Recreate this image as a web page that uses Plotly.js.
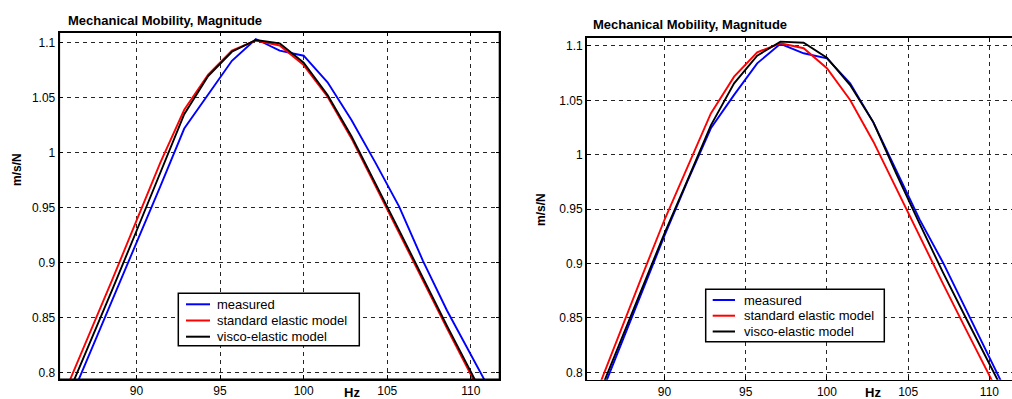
<!DOCTYPE html>
<html>
<head>
<meta charset="utf-8">
<script src="https://cdn.plot.ly/plotly-3.0.1.min.js"></script>
<style>html,body{margin:0;padding:0;background:#fff;}#chart{width:1012px;height:399px;}</style>
</head>
<body>
<div id="chart"></div>
<script>
// Frequencies (Hz)
const freq = [85.71, 87.14, 88.57, 90.00, 91.43, 92.86, 94.29, 95.71, 97.14, 98.57, 100.00, 101.43, 102.86, 104.29, 105.71, 107.14, 108.57, 110.00, 111.43];

// Left panel
const measuredL = [0.7635, 0.8148, 0.8659, 0.9179, 0.9695, 1.022, 1.053, 1.0836, 1.1034, 1.0929, 1.0882, 1.064, 1.0297, 0.991, 0.951, 0.9015, 0.8566, 0.816, 0.776];
const standardL = [0.782, 0.833, 0.885, 0.938, 0.991, 1.039, 1.071, 1.093, 1.102, 1.0975, 1.0797, 1.0509, 1.013, 0.970, 0.9267, 0.8832, 0.8403, 0.798, 0.756];
const viscoL    = [0.773, 0.824, 0.876, 0.9286, 0.9818, 1.035, 1.0697, 1.0918, 1.1025, 1.0995, 1.0818, 1.0525, 1.015, 0.9725, 0.9294, 0.886, 0.8426, 0.8007, 0.758];

// Right panel
const measuredR = [0.765, 0.8188, 0.8726, 0.9253, 0.976, 1.0243, 1.055, 1.084, 1.102, 1.0933, 1.0887, 1.0657, 1.0298, 0.9842, 0.9404, 0.901, 0.8575, 0.8139, 0.770];
const standardR = [0.777, 0.832, 0.8864, 0.940, 0.9887, 1.038, 1.0718, 1.0942, 1.1025, 1.0979, 1.0795, 1.0504, 1.012, 0.968, 0.9245, 0.8815, 0.839, 0.797, 0.755];
const viscoR    = [0.770, 0.823, 0.8756, 0.9276, 0.977, 1.027, 1.0657, 1.0911, 1.104, 1.103, 1.0892, 1.0641, 1.0298, 0.982, 0.9365, 0.8918, 0.8495, 0.8072, 0.766];

const seriesNames = ['measured', 'standard elastic model', 'visco-elastic model'];
const seriesColors = ['#0000ff', '#ff0000', '#000000'];
const xTicks = [90, 95, 100, 105, 110];
const yTicks = [0.8, 0.85, 0.9, 0.95, 1, 1.05, 1.1];
const yTickText = ['0.8', '0.85', '0.9', '0.95', '1', '1.05', '1.1'];
const titleText = 'Mechanical Mobility, Magnitude';
const yLabel = 'm/s/N';
const xLabel = 'Hz';

const FONT = 'Liberation Sans, Arial, Helvetica, sans-serif';
const W = 1012, H = 399;
const px = v => v / W;
const py = v => 1 - v / H;

function mk(y, i, xa, ya) {
  return {x: freq, y: y, type: 'scatter', mode: 'lines', name: seriesNames[i],
    xaxis: xa, yaxis: ya, showlegend: false,
    line: {color: seriesColors[i], width: 1.9}, hoverinfo: 'skip'};
}

const data = [
  mk(measuredL, 0, 'x', 'y'),
  mk(standardL, 1, 'x', 'y'),
  mk(viscoL, 2, 'x', 'y'),
  mk(measuredR, 0, 'x2', 'y2'),
  mk(standardR, 1, 'x2', 'y2'),
  mk(viscoR, 2, 'x2', 'y2')
];

const gridCommon = {
  showgrid: true, gridcolor: 'rgba(0,0,0,0.85)', gridwidth: 1, griddash: '4px,4px',
  zeroline: false, showline: true, linecolor: '#000', linewidth: 1.6,
  ticks: 'inside', ticklen: 4, tickcolor: '#000', tickwidth: 1,
  tickfont: {family: FONT, size: 12, color: '#000'}, tickmode: 'array', automargin: false
};

// Legend drawn as a boxed key (shapes + text), matching the MATLAB legend style
function legendParts(box, sampleX0, sampleX1, textX, rowsY) {
  const shapes = [{type: 'rect', xref: 'paper', yref: 'paper', x0: px(box[0]), x1: px(box[1]), y0: py(box[3]), y1: py(box[2]),
    fillcolor: '#fff', line: {color: '#000', width: 1.5}, layer: 'above'}];
  const anns = [];
  seriesNames.forEach((n, i) => {
    shapes.push({type: 'line', xref: 'paper', yref: 'paper', x0: px(sampleX0), x1: px(sampleX1), y0: py(rowsY[i]), y1: py(rowsY[i]),
      line: {color: seriesColors[i], width: 2}, layer: 'above'});
    anns.push({text: n, xref: 'paper', yref: 'paper', x: px(textX), y: py(rowsY[i]), xanchor: 'left', yanchor: 'middle',
      showarrow: false, font: {family: FONT, size: 13, color: '#000'}});
  });
  return {shapes, anns};
}
const legL = legendParts([178.3, 359.3, 293.3, 345.7], 186, 210, 215, [304.3, 320.5, 336.7]);
const legR = legendParts([705.7, 884.3, 289.3, 341.7], 712.7, 735, 741.5, [300, 315.7, 331.5]);

const layout = {
  width: W, height: H,
  margin: {l: 0, r: 0, t: 0, b: 0, pad: 0},
  paper_bgcolor: '#fff', plot_bgcolor: '#fff',
  showlegend: false,
  font: {family: FONT, size: 12, color: '#000'},
  xaxis: Object.assign({}, gridCommon, {domain: [px(59.3), px(499.5)], range: [85.39, 111.71], tickvals: xTicks, anchor: 'y', mirror: 'ticks'}),
  yaxis: Object.assign({}, gridCommon, {domain: [1 - 379.3 / H, 1 - 32.3 / H], range: [0.794, 1.1095], tickvals: yTicks, ticktext: yTickText, anchor: 'x', mirror: 'ticks'}),
  xaxis2: Object.assign({}, gridCommon, {domain: [px(586.7), 1], range: [85.22, 111.39], tickvals: xTicks, anchor: 'y2', mirror: 'ticks'}),
  yaxis2: Object.assign({}, gridCommon, {domain: [1 - 379.7 / H, 1 - 37.7 / H], range: [0.7932, 1.1076], tickvals: yTicks, ticktext: yTickText, anchor: 'x2', mirror: false}),
  shapes: [
    {type: 'rect', xref: 'x domain', yref: 'y domain', x0: 0, x1: 1, y0: 0, y1: 1, line: {color: '#000', width: 1.6}, layer: 'above'}
  ].concat(legL.shapes, legR.shapes),
  annotations: [
    {text: '<b>' + titleText + '</b>', xref: 'paper', yref: 'paper', x: px(164.5), y: py(20), xanchor: 'center', yanchor: 'middle', showarrow: false, font: {family: FONT, size: 13, color: '#000'}},
    {text: '<b>' + titleText + '</b>', xref: 'paper', yref: 'paper', x: px(689.7), y: py(25), xanchor: 'center', yanchor: 'middle', showarrow: false, font: {family: FONT, size: 13, color: '#000'}},
    {text: '<b>' + yLabel + '</b>', xref: 'paper', yref: 'paper', x: px(17), y: py(170), xanchor: 'center', yanchor: 'middle', textangle: -90, showarrow: false, font: {family: FONT, size: 12, color: '#000'}},
    {text: '<b>' + yLabel + '</b>', xref: 'paper', yref: 'paper', x: px(541), y: py(210), xanchor: 'center', yanchor: 'middle', textangle: -90, showarrow: false, font: {family: FONT, size: 12, color: '#000'}},
    {text: '<b>' + xLabel + '</b>', xref: 'paper', yref: 'paper', x: px(352), y: py(392), xanchor: 'center', yanchor: 'middle', showarrow: false, font: {family: FONT, size: 13, color: '#000'}},
    {text: '<b>' + xLabel + '</b>', xref: 'paper', yref: 'paper', x: px(872.7), y: py(392), xanchor: 'center', yanchor: 'middle', showarrow: false, font: {family: FONT, size: 13, color: '#000'}}
  ].concat(legL.anns, legR.anns)
};

Plotly.newPlot('chart', data, layout, {displayModeBar: false, staticPlot: true});
</script>
</body>
</html>
